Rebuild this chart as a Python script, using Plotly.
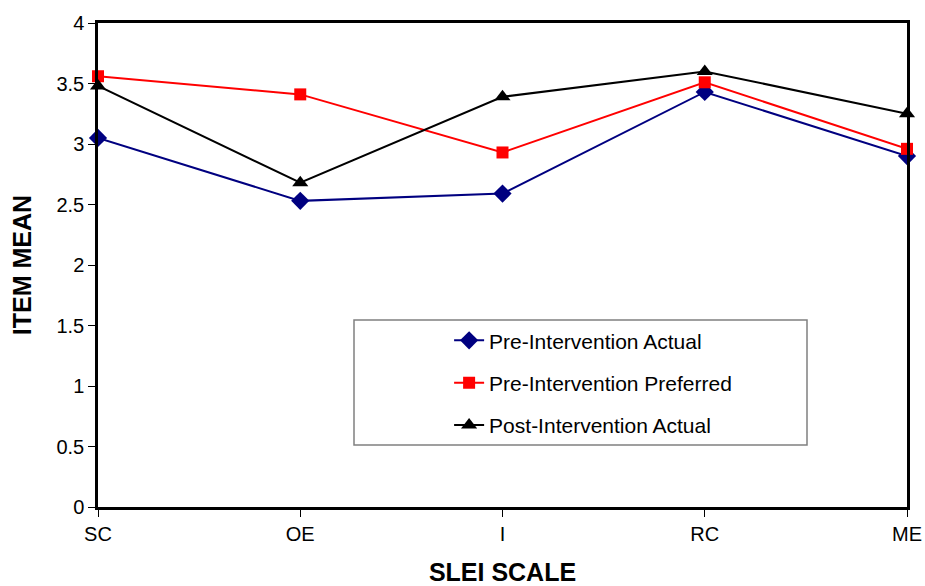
import plotly.graph_objects as go

categories = ["SC", "OE", "I", "RC", "ME"]
pre_actual = [3.05, 2.53, 2.59, 3.43, 2.90]
pre_preferred = [3.56, 3.41, 2.93, 3.51, 2.96]
post_actual = [3.48, 2.68, 3.39, 3.60, 3.25]
y_ticks = [0, 0.5, 1, 1.5, 2, 2.5, 3, 3.5, 4]
y_ticktext = ["0", "0.5", "1", "1.5", "2", "2.5", "3", "3.5", "4"]

FONT = "Liberation Sans, Arial, sans-serif"

fig = go.Figure()
series = [
    ("Pre-Intervention Actual", pre_actual, "#000080", "diamond", 14),
    ("Pre-Intervention Preferred", pre_preferred, "#ff0000", "square", 12),
    ("Post-Intervention Actual", post_actual, "#000000", "triangle-up", 14),
]
for i, (name, vals, col, sym, sz) in enumerate(series):
    fig.add_trace(go.Scatter(
        x=categories, y=vals, name=name, mode="lines+markers",
        line=dict(color=col, width=2),
        marker=dict(color=col, symbol=sym, size=sz, line=dict(width=0)),
        cliponaxis=False, legendgroup=f"g{i}",
    ))

fig.update_layout(
    width=925, height=586,
    margin=dict(l=98, r=18, t=23, b=79),
    paper_bgcolor="white", plot_bgcolor="white",
    font=dict(family=FONT, size=20, color="black"),
    showlegend=True,
    legend=dict(
        x=0.434, y=0.386, xanchor="left", yanchor="top",
        bgcolor="rgba(0,0,0,0)", borderwidth=0,
        font=dict(family=FONT, size=21, color="black"),
        tracegroupgap=12, traceorder="grouped",
    ),
    xaxis=dict(
        type="category", range=[0, 4], automargin=False,
        showline=True, linecolor="black", linewidth=2.5, mirror=True,
        ticks="outside", ticklen=7, tickcolor="black",
        showgrid=False, zeroline=False,
        title=dict(text="<b>SLEI SCALE</b>", font=dict(family=FONT, size=25), standoff=25),
        tickfont=dict(family=FONT, size=20),
    ),
    yaxis=dict(
        range=[0, 4], tickvals=y_ticks, ticktext=y_ticktext, automargin=False,
        showline=True, linecolor="black", linewidth=2.5, mirror=True,
        ticks="outside", ticklen=7, tickcolor="black",
        showgrid=False, zeroline=False,
        title=dict(text="<b>ITEM MEAN</b>", font=dict(family=FONT, size=25), standoff=18),
        tickfont=dict(family=FONT, size=20),
    ),
    shapes=[dict(
        type="rect", xref="paper", yref="paper",
        x0=(354 - 98) / 809, x1=(807 - 98) / 809,
        y0=(507 - 445) / 484, y1=(507 - 320) / 484,
        line=dict(color="#808080", width=1.5), fillcolor="rgba(0,0,0,0)",
    )],
)

fig.write_html("out.html")
